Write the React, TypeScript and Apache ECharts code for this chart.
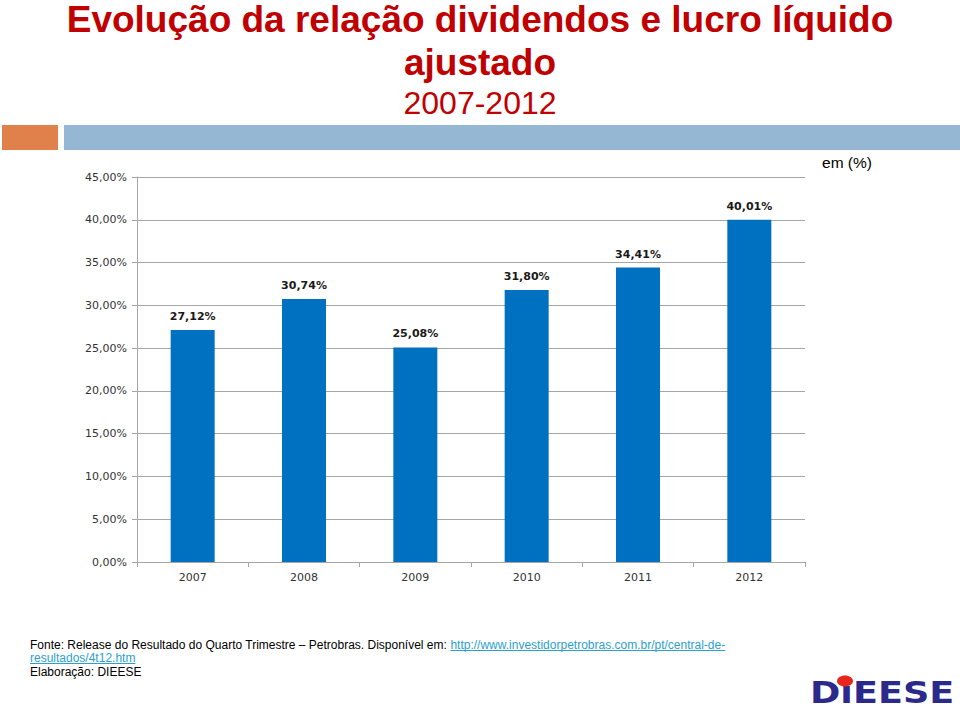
import React, { useEffect, useRef } from 'react';
import * as echarts from 'echarts';

const years = ['2007', '2008', '2009', '2010', '2011', '2012'];
const ratio = [27.12, 30.74, 25.08, 31.8, 34.41, 40.01];
const yMin = 0;
const yMax = 45;
const yStep = 5;

const titleLine1 = 'Evolução da relação dividendos e lucro líquido';
const titleLine2 = 'ajustado';
const subtitle = '2007-2012';
const unitNote = 'em (%)';
const sourceText = 'Fonte: Release do Resultado do Quarto Trimestre – Petrobras. Disponível em: ';
const linkLine1 = 'http://www.investidorpetrobras.com.br/pt/central-de-';
const linkLine2 = 'resultados/4t12.htm';
const creditText = 'Elaboração: DIEESE';
const logoText = 'DıEESE';

const pct = (v: number) => v.toFixed(2).replace('.', ',') + '%';

function measure(text: string, font: string): number {
  const c = document.createElement('canvas').getContext('2d');
  if (!c) return text.length * 6;
  c.font = font;
  return c.measureText(text).width;
}

export default function App() {
  const ref = useRef<HTMLDivElement>(null);
  useEffect(() => {
    if (!ref.current) return;
    const chart = echarts.init(ref.current, undefined, { renderer: 'svg' });
    const footFont = '12px "Liberation Sans", Arial, sans-serif';
    const footX = 30;
    const srcW = measure(sourceText, footFont);
    const link1W = measure(linkLine1, footFont);
    const link2W = measure(linkLine2, footFont);
    const linkColor = '#2C9FD0';
    chart.setOption({
      animation: false,
      backgroundColor: '#ffffff',
      grid: { left: 137, right: 155, top: 177, bottom: 148 },
      xAxis: {
        type: 'category',
        data: years,
        axisLine: { lineStyle: { color: '#A6A6A6', width: 1 } },
        axisTick: { show: true, length: 5, lineStyle: { color: '#A6A6A6' } },
        axisLabel: {
          color: '#333333',
          fontFamily: '"DejaVu Sans", sans-serif',
          fontSize: 11,
          margin: 10,
        },
      },
      yAxis: {
        type: 'value',
        min: yMin,
        max: yMax,
        interval: yStep,
        axisLine: { show: true, lineStyle: { color: '#A6A6A6', width: 1 } },
        axisTick: { show: true, length: 5, lineStyle: { color: '#A6A6A6' } },
        splitLine: { show: true, lineStyle: { color: '#A6A6A6', width: 1 } },
        axisLabel: {
          color: '#333333',
          fontFamily: '"DejaVu Sans", sans-serif',
          fontSize: 11,
          margin: 10,
          formatter: (v: number) => pct(v),
        },
      },
      series: [
        {
          type: 'bar',
          data: ratio,
          barWidth: 44,
          itemStyle: { color: '#0070C0' },
          label: {
            show: true,
            position: 'top',
            distance: 8,
            color: '#1a1a1a',
            fontWeight: 'bold',
            fontFamily: '"DejaVu Sans", sans-serif',
            fontSize: 11,
            formatter: (p: any) => pct(p.value),
          },
        },
      ],
      graphic: [
        {
          type: 'text',
          x: 480,
          y: 19,
          style: {
            text: titleLine1,
            font: 'bold 37px "Liberation Sans", Arial, sans-serif',
            fill: '#C00000',
            textAlign: 'center',
            textVerticalAlign: 'middle',
          },
        },
        {
          type: 'text',
          x: 480,
          y: 62,
          style: {
            text: titleLine2,
            font: 'bold 37px "Liberation Sans", Arial, sans-serif',
            fill: '#C00000',
            textAlign: 'center',
            textVerticalAlign: 'middle',
          },
        },
        {
          type: 'text',
          x: 480,
          y: 103,
          style: {
            text: subtitle,
            font: '32px "Liberation Sans", Arial, sans-serif',
            fill: '#C00000',
            textAlign: 'center',
            textVerticalAlign: 'middle',
          },
        },
        { type: 'rect', shape: { x: 2, y: 125, width: 56, height: 25 }, style: { fill: '#E0804A' } },
        { type: 'rect', shape: { x: 64, y: 125, width: 896, height: 25 }, style: { fill: '#95B7D3' } },
        {
          type: 'text',
          x: 847,
          y: 162,
          style: {
            text: unitNote,
            font: '15.5px "Liberation Sans", Arial, sans-serif',
            fill: '#000000',
            textAlign: 'center',
            textVerticalAlign: 'middle',
          },
        },
        {
          type: 'text',
          x: footX,
          y: 645,
          style: { text: sourceText, font: footFont, fill: '#000000', textAlign: 'left', textVerticalAlign: 'middle' },
        },
        {
          type: 'text',
          x: footX + srcW,
          y: 645,
          style: { text: linkLine1, font: footFont, fill: linkColor, textAlign: 'left', textVerticalAlign: 'middle' },
        },
        {
          type: 'line',
          shape: { x1: footX + srcW, y1: 650.5, x2: footX + srcW + link1W, y2: 650.5 },
          style: { stroke: linkColor, lineWidth: 1 },
        },
        {
          type: 'text',
          x: footX,
          y: 658,
          style: { text: linkLine2, font: footFont, fill: linkColor, textAlign: 'left', textVerticalAlign: 'middle' },
        },
        {
          type: 'line',
          shape: { x1: footX, y1: 663.5, x2: footX + link2W, y2: 663.5 },
          style: { stroke: linkColor, lineWidth: 1 },
        },
        {
          type: 'text',
          x: footX,
          y: 672,
          style: { text: creditText, font: footFont, fill: '#000000', textAlign: 'left', textVerticalAlign: 'middle' },
        },
        {
          type: 'text',
          x: 810,
          y: 693,
          scaleX: 1.22,
          style: {
            text: logoText,
            font: '900 30px "DejaVu Sans", sans-serif',
            fill: '#2B2A8A',
            textAlign: 'left',
            textVerticalAlign: 'middle',
          },
        },
        {
          type: 'ellipse',
          shape: { cx: 845, cy: 681, rx: 8, ry: 5.5 },
          style: { fill: '#E8241C' },
        },
      ],
    });
    return () => chart.dispose();
  }, []);
  return (
    <div
      ref={ref}
      style={{ position: 'absolute', left: 0, top: 0, width: 960, height: 710 }}
    />
  );
}
